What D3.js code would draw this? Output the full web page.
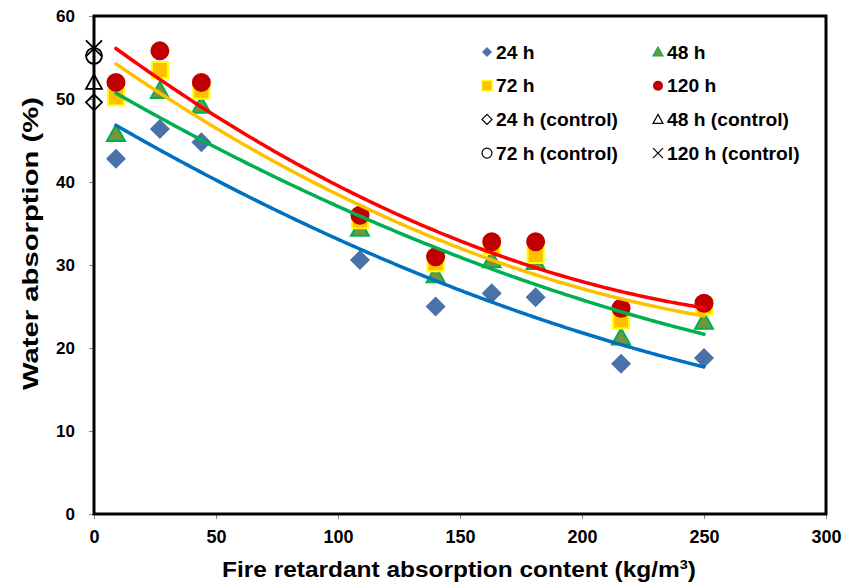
<!DOCTYPE html>
<html>
<head>
<meta charset="utf-8">
<script src="https://cdn.jsdelivr.net/npm/d3@7"></script>
<style>
body { margin: 0; background: #fff; }
text { font-family: "Liberation Sans", Arial, sans-serif; font-weight: bold; }
</style>
</head>
<body>
<div id="plot"></div>
<script>

var content = [9, 27, 44, 109, 140, 163, 181, 216, 250];
var h24 = [42.8, 46.4, 44.8, 30.6, 25.0, 26.6, 26.1, 18.1, 18.8];
var h48 = [45.8, 51.0, 49.2, 34.4, 28.8, 30.6, 30.4, 21.3, 23.2];
var h72 = [50.2, 53.5, 51.0, 35.4, 30.2, 32.3, 31.2, 23.3, 25.0];
var h120 = [52.0, 55.8, 52.0, 36.0, 31.0, 32.8, 32.8, 24.8, 25.4];
var controls = [49.6, 52.0, 55.2, 56.1]; // 24, 48, 72, 120 h at 0 kg/m3
var xTicks = [0, 50, 100, 150, 200, 250, 300];
var yTicks = [0, 10, 20, 30, 40, 50, 60];

var svg = d3.select("#plot")
	.append("svg")
	.attr("width", 845)
	.attr("height", 584);

var x = d3.scaleLinear().domain([0, 300]).range([94, 826]);
var y = d3.scaleLinear().domain([0, 60]).range([514, 16]);

// axes
svg.append("g")
	.attr("transform", "translate(0,514)")
	.call(d3.axisBottom(x).tickValues(xTicks).tickSize(5).tickPadding(11))
	.call(function(g){ g.select(".domain").remove(); })
	.call(function(g){ g.selectAll("line").attr("stroke", "#888"); })
	.call(function(g){ g.selectAll("text").style("font-size", "18px").attr("fill", "#000"); });

svg.append("g")
	.attr("transform", "translate(94,0)")
	.call(d3.axisLeft(y).tickValues(yTicks).tickSize(5).tickPadding(14))
	.call(function(g){ g.select(".domain").remove(); })
	.call(function(g){ g.selectAll("line").attr("stroke", "#888"); })
	.call(function(g){ g.selectAll("text").style("font-size", "17px").attr("fill", "#000"); });

svg.append("rect")
	.attr("x", x(0))
	.attr("y", y(60))
	.attr("width", x(300) - x(0))
	.attr("height", y(0) - y(60))
	.attr("fill", "none")
	.attr("stroke", "#000")
	.attr("stroke-width", 3);

// quadratic trend lines (least squares)
function polyFit(xs, ys) {
	var s = [0, 0, 0, 0, 0], t = [0, 0, 0];
	for (var i = 0; i < xs.length; i++) {
		var p = 1;
		for (var k = 0; k < 5; k++) { s[k] += p; if (k < 3) t[k] += p * ys[i]; p *= xs[i]; }
	}
	var m = [[s[0], s[1], s[2], t[0]], [s[1], s[2], s[3], t[1]], [s[2], s[3], s[4], t[2]]];
	for (var c = 0; c < 3; c++) {
		for (var r = c + 1; r < 3; r++) {
			var f = m[r][c] / m[c][c];
			for (var j = c; j < 4; j++) m[r][j] -= f * m[c][j];
		}
	}
	var co = [0, 0, 0];
	for (var r2 = 2; r2 >= 0; r2--) {
		var v = m[r2][3];
		for (var j2 = r2 + 1; j2 < 3; j2++) v -= m[r2][j2] * co[j2];
		co[r2] = v / m[r2][r2];
	}
	return function(v){ return co[0] + co[1] * v + co[2] * v * v; };
}

var series = [
	{ name: "24 h", data: h24, line: "#0070C0" },
	{ name: "48 h", data: h48, line: "#00B050" },
	{ name: "72 h", data: h72, line: "#FFC000" },
	{ name: "120 h", data: h120, line: "#FF0000" }
];

var lineGen = d3.line().x(function(d){ return x(d[0]); }).y(function(d){ return y(d[1]); });

series.forEach(function(s){
	var f = polyFit(content, s.data);
	s.pts = d3.range(content[0], content[content.length - 1] + 0.1, 1).map(function(v){ return [v, f(v)]; });
});

var sym = {
	diamond: function(cx, cy, r){ return "M" + cx + "," + (cy - r) + "L" + (cx + r) + "," + cy + "L" + cx + "," + (cy + r) + "L" + (cx - r) + "," + cy + "Z"; },
	triangle: function(cx, cy, r){ return "M" + cx + "," + (cy - r) + "L" + (cx + r) + "," + (cy + r * 0.8) + "L" + (cx - r) + "," + (cy + r * 0.8) + "Z"; },
	square: function(cx, cy, r){ return "M" + (cx - r) + "," + (cy - r) + "h" + 2 * r + "v" + 2 * r + "h" + (-2 * r) + "Z"; },
	circle: function(cx, cy, r){ return "M" + (cx - r) + "," + cy + "a" + r + "," + r + " 0 1,0 " + 2 * r + ",0a" + r + "," + r + " 0 1,0 " + (-2 * r) + ",0Z"; },
	cross: function(cx, cy, r){ return "M" + (cx - r) + "," + (cy - r) + "L" + (cx + r) + "," + (cy + r) + "M" + (cx + r) + "," + (cy - r) + "L" + (cx - r) + "," + (cy + r); }
};

// markers
content.forEach(function(c, i){
	svg.append("path").attr("d", sym.diamond(x(c), y(h24[i]), 10)).attr("fill", "#4A72A8");
});
content.forEach(function(c, i){
	svg.append("path").attr("d", sym.triangle(x(c), y(h48[i]), 9)).attr("fill", "#77933C").attr("stroke", "#00B050").attr("stroke-width", 2);
});
content.forEach(function(c, i){
	svg.append("path").attr("d", sym.square(x(c), y(h72[i]), 8)).attr("fill", "#FFC000").attr("stroke", "#FFFF00").attr("stroke-width", 2);
});
content.forEach(function(c, i){
	svg.append("path").attr("d", sym.circle(x(c), y(h120[i]), 9.5)).attr("fill", "#C00000");
});

// trend lines
series.forEach(function(s){
	svg.append("path")
		.attr("d", lineGen(s.pts))
		.attr("fill", "none")
		.attr("stroke", s.line)
		.attr("stroke-width", 3.5)
		.attr("stroke-linecap", "round");
});

// control points at 0
var ctrlSym = ["diamond", "triangle", "circle", "cross"];
controls.forEach(function(v, i){
	svg.append("path")
		.attr("d", sym[ctrlSym[i]](x(0), y(v), 8))
		.attr("fill", "none")
		.attr("stroke", "#000")
		.attr("stroke-width", 1.8);
});

// legend
var legend = [
	{ label: "24 h", s: "diamond", fill: "#4A72A8", stroke: "none" },
	{ label: "48 h", s: "triangle", fill: "#77933C", stroke: "#00B050" },
	{ label: "72 h", s: "square", fill: "#FFC000", stroke: "#FFFF00" },
	{ label: "120 h", s: "circle", fill: "#C00000", stroke: "none" },
	{ label: "24 h (control)", s: "diamond", fill: "#fff", stroke: "#000" },
	{ label: "48 h (control)", s: "triangle", fill: "#fff", stroke: "#000" },
	{ label: "72 h (control)", s: "circle", fill: "#fff", stroke: "#000" },
	{ label: "120 h (control)", s: "cross", fill: "none", stroke: "#000" }
];

legend.forEach(function(d, i){
	var lx = i % 2 == 0 ? 487 : 658;
	var ly = 52 + Math.floor(i / 2) * 33.7;
	svg.append("path")
		.attr("d", sym[d.s](lx, ly, 5))
		.attr("fill", d.fill)
		.attr("stroke", d.stroke)
		.attr("stroke-width", 1.2);
	var t = svg.append("text")
		.text(d.label)
		.attr("x", lx + 9)
		.attr("y", ly + 6.5)
		.style("font-size", "17.5px")
		.attr("fill", "#000");
	t.attr("textLength", t.node().getComputedTextLength() * 1.1)
		.attr("lengthAdjust", "spacingAndGlyphs");
});

// axis titles
svg.append("text")
	.attr("x", 222)
	.attr("y", 577)
	.attr("textLength", 474)
	.attr("lengthAdjust", "spacingAndGlyphs")
	.style("font-size", "22px")
	.html('Fire retardant absorption content (kg/m<tspan dy="-8" style="font-size:13px">3</tspan><tspan dy="8">)</tspan>');

svg.append("text")
	.attr("transform", "translate(38,390) rotate(-90)")
	.attr("textLength", 293)
	.attr("lengthAdjust", "spacingAndGlyphs")
	.style("font-size", "22px")
	.text("Water absorption (%)");

</script>
</body>
</html>
